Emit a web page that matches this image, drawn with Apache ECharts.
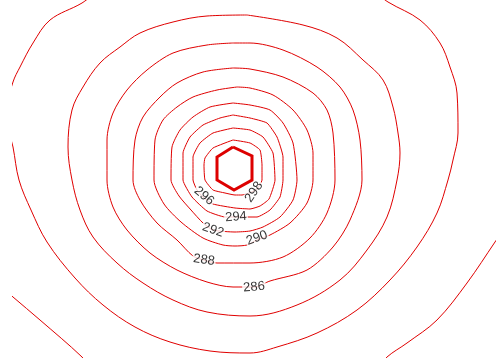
<!DOCTYPE html>
<html>
<head>
<meta charset="utf-8">
<script src="https://cdn.jsdelivr.net/npm/echarts@6/dist/echarts.min.js"></script>
<style>html,body{margin:0;padding:0;background:#fff}#c{width:496px;height:358px}</style>
</head>
<body>
<div id="c"></div>
<script>
// Contour levels (labels)
const labelLevels = [298, 296, 294, 292, 290, 288, 286];
// Label anchor points (x, y in plot units, y grows downward)
const labelPoints = [[254,192],[204,196],[236,217],[213,230],[257,238],[204,260],[254,287]];

// Source outline (hexagon)
const source = [[233,147],[252,156],[252,180],[234,190],[217,180],[217,157],[233,147]];

// Contour polylines
const c298 = [[233,140],[250,143],[260,150],[262,165],[262,180],[256,190],[242,195],[235,195],[225,193],[213,190],[205,180],[204,165],[205,158],[213,148],[233,140]];
const c296 = [[233,128],[250,130],[263,137],[273,153],[275,180],[269,199],[260,206],[250,209],[235,208],[213,204],[203,197],[197,190],[193,180],[193,157],[200,143],[213,133],[233,128]];
const c294 = [[233,115],[250,118],[267,123],[277,137],[283,157],[283,180],[280,197],[270,210],[257,217],[247,217],[236,217],[225,217],[207,211],[192,197],[183,180],[183,153],[190,137],[203,125],[220,118],[233,115]];
const c292 = [[233,103],[250,105],[270,110],[283,123],[293,143],[297,180],[293,200],[280,217],[263,227],[250,231],[235,232],[213,230],[203,223],[191,210],[179,196],[171,180],[172,147],[180,130],[193,117],[210,107],[233,103]];
const c290 = [[237,87],[250,88],[273,95],[293,110],[307,130],[313,153],[313,180],[307,203],[290,223],[270,235],[257,240],[247,245],[235,246],[223,245],[203,238],[181,222],[164,204],[154,180],[155,140],[163,120],[177,107],[193,97],[217,90],[237,87]];
const c288 = [[233,68],[250,69],[283,77],[313,93],[327,110],[333,133],[335,180],[327,213],[310,238],[283,257],[250,263],[217,263],[204,260],[193,256],[177,240],[157,223],[140,200],[133,180],[135,140],[143,117],[160,97],[177,83],[203,72],[233,68]];
const c286 = [[233,43],[250,43],[283,50],[317,67],[340,87],[353,110],[360,140],[362,180],[350,220],[333,247],[307,270],[270,281],[254,287],[233,287],[207,282],[177,270],[150,253],[127,230],[113,207],[107,180],[107,140],[113,113],[127,90],[147,70],[173,53],[207,45],[233,43]];
const c284 = [[247,15],[303,25],[337,38],[363,60],[383,80],[393,107],[398,133],[400,153],[397,180],[387,217],[367,250],[340,280],[297,305],[250,316],[207,312],[173,300],[143,283],[117,263],[93,237],[80,210],[72,180],[68,147],[72,110],[83,87],[100,63],[120,47],[140,33],[173,22],[207,16],[247,15]];
const c282 = [[96,-8],[82,3],[50,20],[33,43],[20,67],[13,82],[8,105],[8,125],[13,147],[19,180],[31,210],[47,242],[75,278],[103,305],[135,327],[170,342],[210,351],[250,353],[277,347],[317,333],[357,310],[390,280],[417,247],[437,213],[448,180],[453,160],[458,133],[457,93],[450,67],[440,43],[420,20],[388,2],[375,-8]];
const c280a = [[4,289],[13,297],[40,320],[82,357],[87,365]];
const c280b = [[503,230],[495,242],[467,283],[437,320],[407,343],[387,357],[382,365]];

const contours = [c298, c296, c294, c292, c290, c288, c286, c284, c282, c280a, c280b];
const smoothing = [0.15, 0.15, 0.15, 0.2, 0.25, 0.3, 0.3, 0.35, 0.35, 0.35, 0.35];
const labelAngles = [55, -40, 4, -20, 20, -8, 5];

const red = '#e00000';
const series = contours.map((d, i) => ({
  type: 'line', data: d, showSymbol: false, symbol: 'none', silent: true,
  clip: true, animation: false, z: 2, smooth: smoothing[i],
  itemStyle: { color: red },
  lineStyle: { color: red, width: 1, opacity: 1 },
  emphasis: { disabled: true }
}));
series.push({
  type: 'line', data: source, showSymbol: false, symbol: 'none', silent: true,
  clip: true, animation: false, z: 3,
  itemStyle: { color: '#dd0000' },
  lineStyle: { color: '#dd0000', width: 3, join: 'miter' },
  emphasis: { disabled: true }
});
series.push({
  type: 'scatter', symbolSize: 0, silent: true, animation: false, z: 5,
  data: labelLevels.map((lv, i) => ({
    value: [labelPoints[i][0], labelPoints[i][1], lv],
    label: { rotate: labelAngles[i] }
  })),
  label: {
    show: true, position: 'inside', formatter: p => String(p.value[2]),
    color: '#000', fontSize: 13, fontFamily: 'Liberation Sans, Arial, sans-serif',
    backgroundColor: '#fff', padding: [0, 1]
  }
});

const chart = echarts.init(document.getElementById('c'), null, { renderer: 'canvas' });
chart.setOption({
  backgroundColor: '#fff',
  animation: false,
  grid: { left: 13, right: 0, top: 0, bottom: 0 },
  xAxis: { type: 'value', min: 13, max: 496, show: false },
  yAxis: { type: 'value', min: 0, max: 358, inverse: true, show: false },
  series: series
});
</script>
</body>
</html>
